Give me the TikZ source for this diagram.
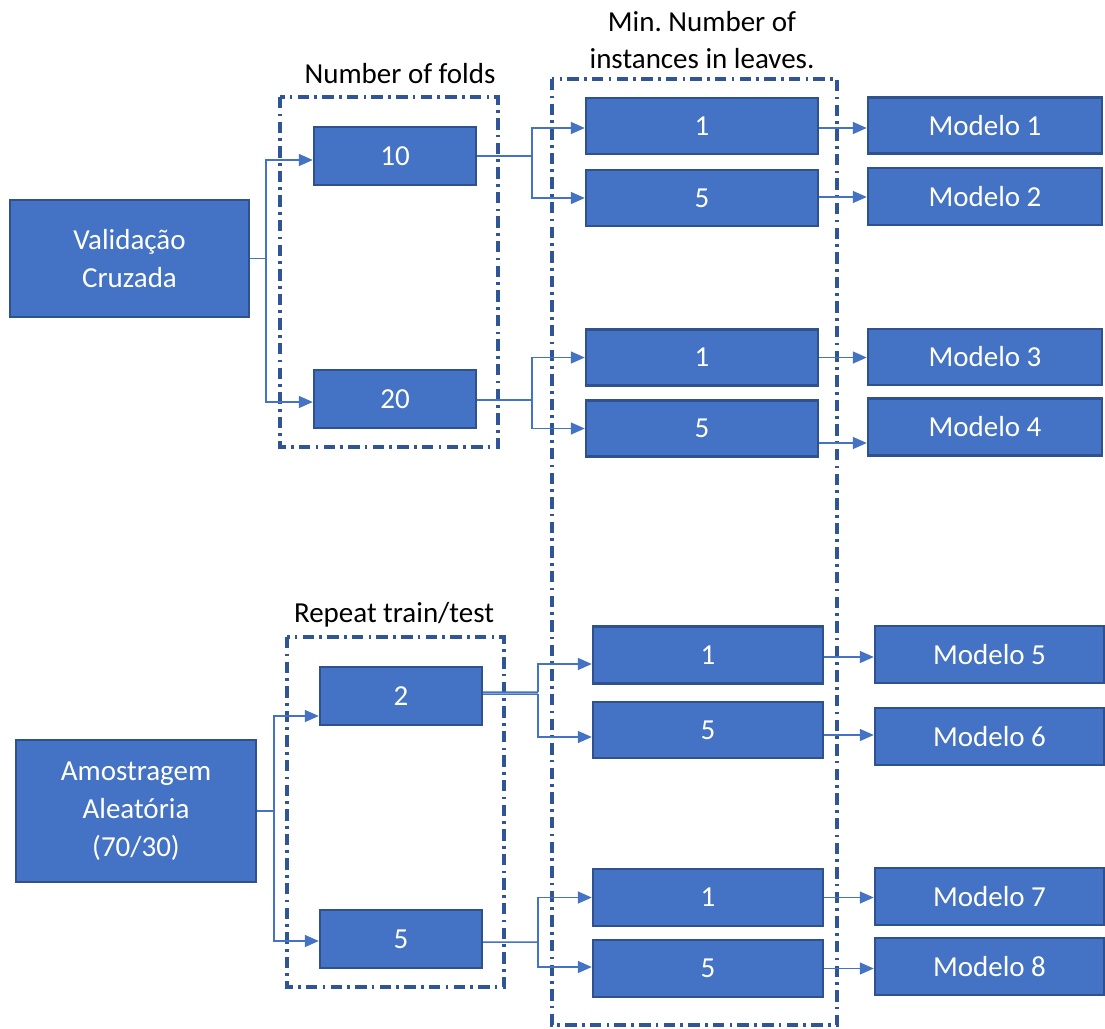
\documentclass[tikz,border=0pt]{standalone}
\usepackage{fontspec}
\setmainfont{Carlito}
\usetikzlibrary{arrows.meta}
\definecolor{boxfill}{HTML}{4472C4}
\definecolor{boxline}{HTML}{2F528F}
\definecolor{connc}{HTML}{4472C4}
\definecolor{framec}{HTML}{2F5597}
\tikzset{
  blk/.style={draw=boxline, fill=boxfill, line width=1.4pt, text=white, align=center,
    inner sep=0pt, font=\fontsize{16.5}{21.5}\selectfont},
  lbl/.style={text=black, align=center, inner sep=0pt, font=\fontsize{16.5}{21.5}\selectfont},
  conn/.style={draw=connc, line width=0.85pt, -{Triangle[length=0.28cm,width=0.24cm]}},
  plainconn/.style={draw=connc, line width=0.85pt},
  frame/.style={draw=framec, line width=1.9pt, dash pattern=on 6.5pt off 3pt on 1.5pt off 3pt}
}
\begin{document}
\frenchspacing
\begin{tikzpicture}[x=0.02cm, y=-0.02cm]
\useasboundingbox (0,0) rectangle (1105,1028);

% frames
\draw[frame] (280,97) rectangle (498,447);
\draw[frame] (552,79) rectangle (837,1025);
\draw[frame] (287,637) rectangle (504,987);

% frame labels
\node[lbl] (tfolds) at (400,74) {Number of folds};
\node[lbl] (tmin) at (702,40) {Min.\ Number of\\instances in leaves.};
\node[lbl] (trep) at (394,615) {Repeat train/test};

% first-level boxes
\node[blk, minimum width=4.78cm, minimum height=2.34cm] (V) at (129.5,258.5) {Validação\\Cruzada};
\node[blk, minimum width=4.8cm, minimum height=2.84cm] (A) at (136,811) {Amostragem\\Aleatória\\(70/30)};

% second-level
\node[blk, minimum width=3.24cm, minimum height=1.16cm] (F10) at (395,156) {10};
\node[blk, minimum width=3.24cm, minimum height=1.16cm] (F20) at (395,399) {20};
\node[blk, minimum width=3.24cm, minimum height=1.16cm] (R2) at (401,696) {2};
\node[blk, minimum width=3.24cm, minimum height=1.16cm] (R5) at (401,939) {5};

% leaves
\node[blk, minimum width=4.64cm, minimum height=1.12cm] (L1) at (702,126) {1};
\node[blk, minimum width=4.64cm, minimum height=1.12cm] (L2) at (702,198) {5};
\node[blk, minimum width=4.64cm, minimum height=1.12cm] (L3) at (702,357.5) {1};
\node[blk, minimum width=4.64cm, minimum height=1.12cm] (L4) at (702,428.5) {5};
\node[blk, minimum width=4.6cm, minimum height=1.14cm] (B1) at (708,655) {1};
\node[blk, minimum width=4.6cm, minimum height=1.12cm] (B2) at (708,730) {5};
\node[blk, minimum width=4.6cm, minimum height=1.14cm] (B3) at (708,897.5) {1};
\node[blk, minimum width=4.6cm, minimum height=1.14cm] (B4) at (708,968.5) {5};

% models
\node[blk, minimum width=4.68cm, minimum height=1.12cm] (M1) at (985,125.5) {Modelo 1};
\node[blk, minimum width=4.68cm, minimum height=1.14cm] (M2) at (985,196.5) {Modelo 2};
\node[blk, minimum width=4.68cm, minimum height=1.12cm] (M3) at (985,357) {Modelo 3};
\node[blk, minimum width=4.68cm, minimum height=1.14cm] (M4) at (985,427) {Modelo 4};
\node[blk, minimum width=4.58cm, minimum height=1.14cm] (M5) at (989.5,654.5) {Modelo 5};
\node[blk, minimum width=4.58cm, minimum height=1.14cm] (M6) at (989.5,736.5) {Modelo 6};
\node[blk, minimum width=4.58cm, minimum height=1.14cm] (M7) at (989.5,896.5) {Modelo 7};
\node[blk, minimum width=4.58cm, minimum height=1.14cm] (M8) at (989.5,966.5) {Modelo 8};

% elbows
\coordinate (eV) at (266,258.5);
\coordinate (eA) at (274,811);
\coordinate (e10) at (532,156);
\coordinate (e20) at (532,400);
\coordinate (e2a) at (538,692);
\coordinate (e2b) at (538,694);
\coordinate (e5) at (538,942);

% first level connectors
\draw[plainconn] (V.east) -- (eV);
\draw[conn] (eV) |- ([yshift=-0.08cm]F10.west);
\draw[conn] (eV) |- ([yshift=-0.06cm]F20.west);
\draw[plainconn] (A.east) -- (eA);
\draw[conn] (eA) |- ([yshift=-0.4cm]R2.west);
\draw[conn] (eA) |- ([yshift=-0.04cm]R5.west);

% second level connectors
\draw[plainconn] (F10.east) -- (e10);
\draw[conn] (e10) |- ([yshift=-0.04cm]L1.west);
\draw[conn] (e10) |- (L2.west);
\draw[plainconn] ([yshift=-0.02cm]F20.east) -- (e20);
\draw[conn] (e20) |- (L3.west);
\draw[conn] (e20) |- (L4.west);
\coordinate (r2a) at ([yshift=0.08cm]R2.east);
\coordinate (r2b) at ([yshift=0.04cm]R2.east);
\draw[plainconn] (r2a) -- (e2a);
\draw[conn] (e2a) |- ([yshift=-0.18cm]B1.west);
\draw[plainconn] (r2b) -- (e2b);
\draw[conn] (e2b) |- ([yshift=-0.14cm]B2.west);
\draw[plainconn] ([yshift=-0.06cm]R5.east) -- (e5);
\draw[conn] (e5) |- (B3.west);
\draw[conn] (e5) |- ([yshift=0.03cm]B4.west);

% leaf to model connectors
\coordinate (p1) at ([yshift=-0.04cm]L1.east);
\coordinate (p2) at ([yshift=0.02cm]L2.east);
\coordinate (p3) at (L3.east);
\coordinate (p4) at ([yshift=-0.29cm]L4.east);
\coordinate (p5) at ([yshift=-0.04cm]B1.east);
\coordinate (p6) at ([yshift=-0.1cm]B2.east);
\coordinate (p7) at (B3.east);
\coordinate (p8) at (B4.east);
\draw[conn] (p1) -- (p1 -| M1.west);
\draw[conn] (p2) -- (p2 -| M2.west);
\draw[conn] (p3) -- (p3 -| M3.west);
\draw[conn] (p4) -- (p4 -| M4.west);
\draw[conn] (p5) -- (p5 -| M5.west);
\draw[conn] (p6) -- (p6 -| M6.west);
\draw[conn] (p7) -- (p7 -| M7.west);
\draw[conn] (p8) -- (p8 -| M8.west);
\end{tikzpicture}
\end{document}
